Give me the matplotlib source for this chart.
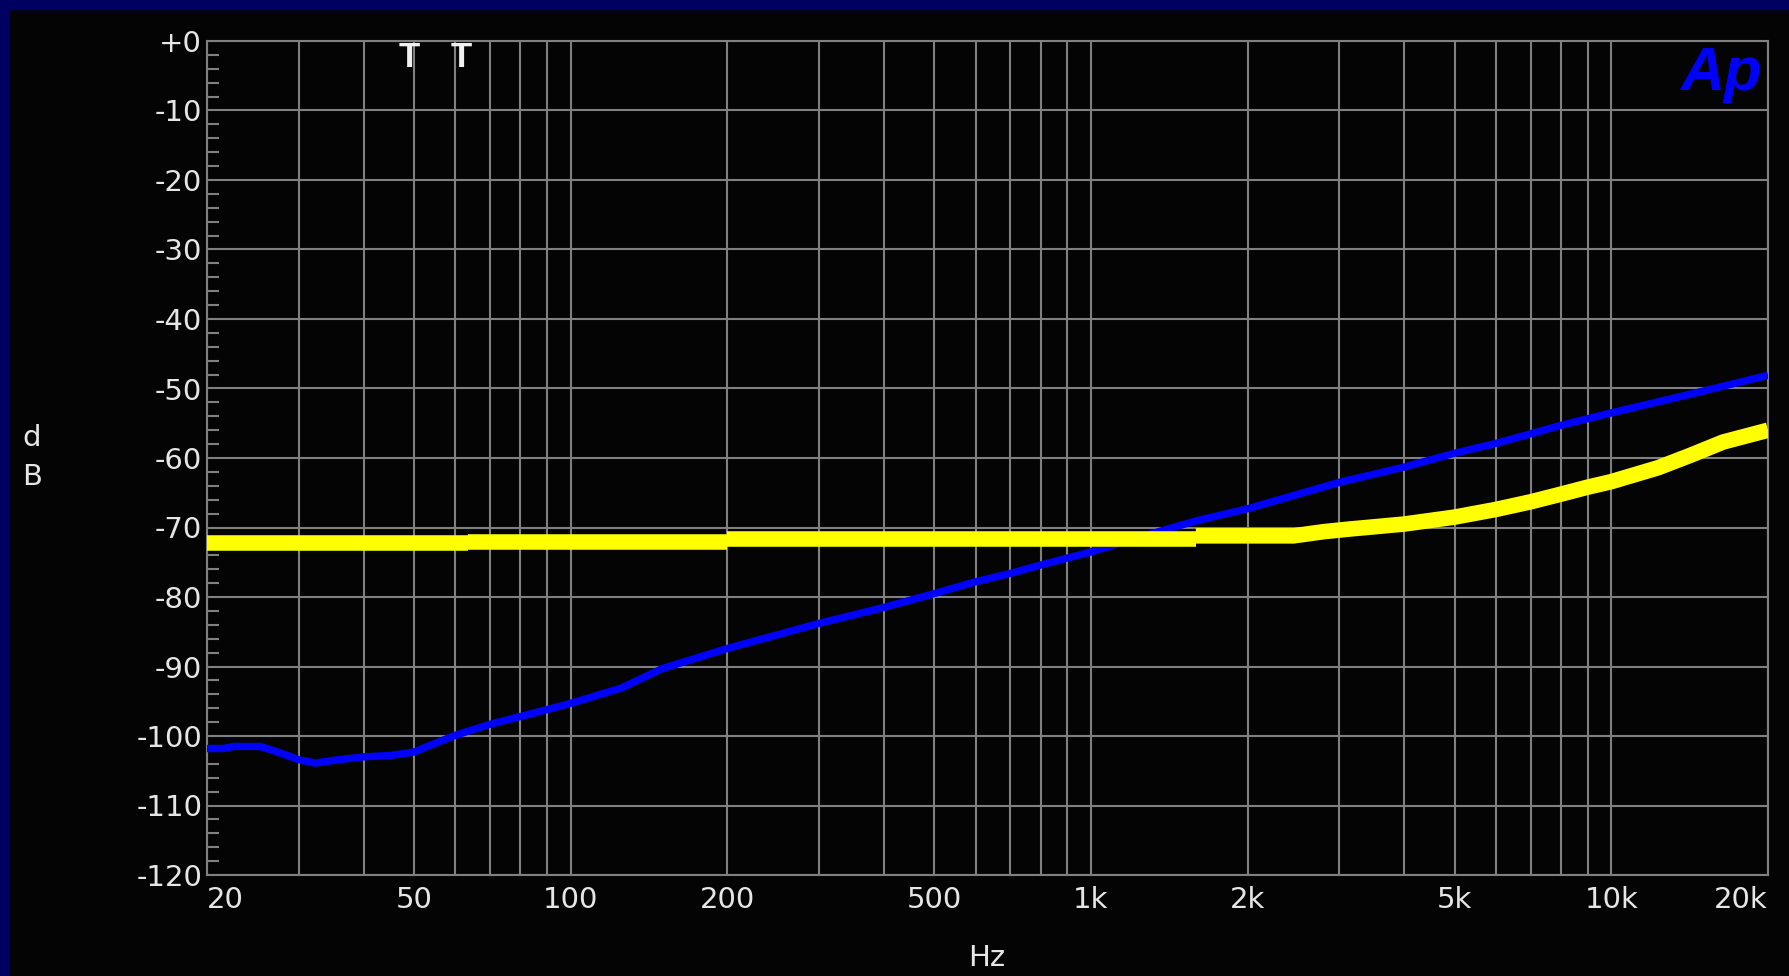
# -*- coding: utf-8 -*-
"""Audio Precision style sweep: two noise/level curves against frequency."""

import matplotlib
matplotlib.use("Agg")
import matplotlib.pyplot as plt
from matplotlib.patches import Rectangle
from matplotlib.ticker import MultipleLocator

# blue trace (Hz, dB)
blue_freq = [20, 21.5, 22.5, 25.3, 27.6, 30, 32.3, 35, 40, 45, 50, 53.4,
             60, 70, 80, 90, 100, 125, 150, 200, 300, 400, 500, 600, 700,
             800, 1000, 1320, 1600, 2000, 3000, 4000, 5000, 6000, 8000,
             10000, 13500, 20000]
blue_db = [-101.8, -101.8, -101.5, -101.5, -102.4, -103.4, -103.9, -103.5,
           -103.0, -102.8, -102.3, -101.4, -99.9, -98.3, -97.2, -96.2,
           -95.3, -93.1, -90.3, -87.4, -83.8, -81.5, -79.5, -77.8, -76.6,
           -75.4, -73.5, -70.8, -69.0, -67.3, -63.5, -61.3, -59.3, -57.9,
           -55.3, -53.5, -51.2, -48.1]

# yellow trace (Hz, dB), repeated frequencies are the small level steps
yellow_freq = [20, 63.5, 63.5, 200, 200, 1590, 1590, 2450, 2800, 3160, 3500,
               4000, 5000, 6000, 7000, 8000, 9000, 10000, 12300, 14200,
               16400, 20000]
yellow_db = [-72.3, -72.3, -72.1, -72.1, -71.7, -71.7, -71.2, -71.2, -70.6,
             -70.2, -69.9, -69.5, -68.5, -67.4, -66.3, -65.2, -64.2, -63.4,
             -61.4, -59.6, -57.7, -56.0]

x_labels = {20: "20", 50: "50", 100: "100", 200: "200", 500: "500",
            1000: "1k", 2000: "2k", 5000: "5k", 10000: "10k", 20000: "20k"}
y_ticks = list(range(0, -130, -10))
y_labels = ["+0"] + [str(v) for v in y_ticks[1:]]
marker_freqs = [48.9, 61.5]

BG = "#040404"
GRID = "#808080"
TXT = "#e6e6e6"
W, H = 1789, 976
FS = 21


def split_steps(xs, ys):
    """Cut a trace where the frequency repeats, so each flat run ends clean."""
    pieces = []
    cur_x, cur_y = [xs[0]], [ys[0]]
    for i in range(1, len(xs)):
        if xs[i] == xs[i - 1]:
            pieces.append((cur_x, cur_y))
            cur_x, cur_y = [], []
        cur_x.append(xs[i])
        cur_y.append(ys[i])
    pieces.append((cur_x, cur_y))
    return pieces


def main():
    fig = plt.figure(figsize=(W / 100, H / 100), dpi=100, facecolor=BG)
    fig.patches.append(Rectangle((0, 1 - 9 / H), 1, 9 / H,
                                 transform=fig.transFigure,
                                 color="#000060", zorder=0))
    fig.patches.append(Rectangle((0, 0), 9 / W, 1,
                                 transform=fig.transFigure,
                                 color="#000060", zorder=0))

    ax = fig.add_axes([207 / W, 1 - 875 / H, (1768 - 207) / W, (875 - 41) / H])
    ax.set_facecolor(BG)
    ax.set_xscale("log")
    ax.set_xlim(20, 20000)
    ax.set_ylim(-120, 0)

    # grid frequencies 20, 30, ... 90, 100, 200 ... 20k
    grid_freqs = []
    for dec in [10, 100, 1000, 10000]:
        for m in range(1, 10):
            f = m * dec
            if 20 <= f <= 20000:
                grid_freqs.append(f)
    ax.set_xticks(grid_freqs)
    ax.set_xticklabels([x_labels.get(f, "") for f in grid_freqs])
    ax.minorticks_off()
    ax.set_yticks(y_ticks)
    ax.set_yticklabels(y_labels)
    ax.yaxis.set_minor_locator(MultipleLocator(2))

    ax.grid(True, which="major", color=GRID, lw=1.5)
    ax.tick_params(axis="x", which="both", length=0, pad=8,
                   labelsize=FS, labelcolor=TXT)
    ax.tick_params(axis="y", which="major", length=0, pad=3.5,
                   labelsize=FS, labelcolor=TXT)
    ax.tick_params(axis="y", which="minor", direction="in", length=8.5,
                   width=1.5, color=GRID)
    for lab in ax.get_xticklabels():
        if lab.get_text() == "20":
            lab.set_ha("left")
        elif lab.get_text() == "20k":
            lab.set_ha("right")
    for sp in ax.spines.values():
        sp.set_color(GRID)
        sp.set_linewidth(1.5)

    ax.plot(blue_freq, blue_db, color="#0000ff", lw=5.3,
            solid_capstyle="butt", zorder=3)
    for px, py in split_steps(yellow_freq, yellow_db):
        ax.plot(px, py, color="#ffff00", lw=11.2,
                solid_capstyle="butt", zorder=4)

    for f in marker_freqs:
        ax.text(f, -3.74, "T", color="#f0f0f0", fontsize=25,
                fontweight="bold", family="Liberation Sans",
                ha="center", va="baseline", zorder=5)

    ax.text((1762 - 207) / (1768 - 207), (875 - 90) / (875 - 41),
            "Ap", transform=ax.transAxes, color="#0000ff", fontsize=44,
            fontweight="bold", fontstyle="italic", family="Liberation Sans",
            ha="right", va="baseline", zorder=5)

    fig.text(32 / W, 1 - 438 / H, "d", color=TXT, fontsize=FS,
             ha="center", va="center")
    fig.text(32 / W, 1 - 477 / H, "B", color=TXT, fontsize=FS,
             ha="center", va="center")
    fig.text(987 / W, 1 - 958 / H, "Hz", color=TXT, fontsize=FS,
             ha="center", va="center")

    fig.savefig("out.png", dpi=100, facecolor=BG)


if __name__ == "__main__":
    main()
